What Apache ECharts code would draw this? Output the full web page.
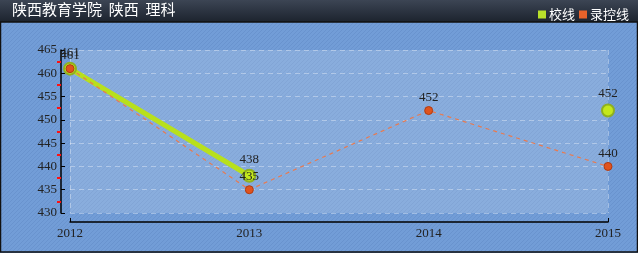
<!DOCTYPE html>
<html><head><meta charset="utf-8">
<script src="https://cdn.jsdelivr.net/npm/echarts@6/dist/echarts.min.js"></script>
<style>html,body{margin:0;padding:0;background:#000;}#c{width:638px;height:253px;}</style>
</head><body><div id="c"></div>
<script>
var categories = ['2012', '2013', '2014', '2015'];
var schoolLine = [461, 438, null, 452];
var controlLine = [461, 435, 452, 440];
var yMin = 430, yMax = 465, yStep = 5;

function stripe() {
  var c = document.createElement('canvas');
  c.width = 4; c.height = 4;
  var g = c.getContext('2d');
  g.fillStyle = '#729dd7';
  g.fillRect(0, 0, 4, 4);
  g.strokeStyle = 'rgba(100,140,200,0.6)';
  g.lineWidth = 1;
  g.beginPath();
  g.moveTo(-1, 5); g.lineTo(5, -1);
  g.stroke();
  return c;
}

var chart = echarts.init(document.getElementById('c'));
var serif = '"Liberation Serif", "DejaVu Serif", serif';
chart.setOption({
  animation: false,
  backgroundColor: {image: stripe(), repeat: 'repeat'},
  graphic: [
    {type: 'rect', shape: {x: 0, y: 0, width: 638, height: 22}, z: -1,
     style: {fill: new echarts.graphic.LinearGradient(0, 0, 0, 1, [{offset: 0, color: '#3c4554'}, {offset: 1, color: '#1c232e'}])}},
    {type: 'rect', shape: {x: 0.5, y: 22, width: 637, height: 230}, z: 100, silent: true,
     style: {fill: 'none', stroke: '#111', lineWidth: 1.5}},
    {type: 'text', left: 12, top: 2, z: 101,
     style: {text: '陕西教育学院  陕西  理科', fill: '#ffffff', font: '15px "Noto Sans CJK SC", sans-serif'}}
  ],
  legend: {
    right: 4, top: 3, itemWidth: 8, itemHeight: 8, itemGap: 4, icon: 'rect',
    textStyle: {color: '#ffffff', fontSize: 13, fontFamily: '"Noto Sans CJK SC", sans-serif', padding: [0, 0, 0, -2]},
    data: [{name: '校线', itemStyle: {color: '#b8e02a', borderWidth: 0}}, {name: '录控线', itemStyle: {color: '#e8622a', borderWidth: 0}}]
  },
  grid: {left: 70, right: 30, top: 50, bottom: 40, show: true, backgroundColor: 'rgba(255,255,255,0.17)', borderWidth: 0},
  xAxis: {
    type: 'category', data: categories, boundaryGap: false, offset: 9,
    axisLine: {lineStyle: {color: '#000', width: 1.5}},
    axisTick: {inside: true, length: 4, lineStyle: {color: '#000'}, interval: 0, customValues: [0, 3]},
    axisLabel: {color: '#222', fontSize: 13, fontFamily: serif, margin: 5},
    splitLine: {show: true, lineStyle: {color: 'rgba(255,255,255,0.35)', type: [5, 4]}}
  },
  yAxis: [{
    type: 'value', min: yMin, max: yMax, interval: yStep, offset: 9,
    axisLine: {show: true, lineStyle: {color: '#000', width: 1.5}},
    axisTick: {show: true, inside: true, length: 4, lineStyle: {color: '#000'}},
    axisLabel: {color: '#222', fontSize: 13, fontFamily: serif, margin: 4},
    splitLine: {show: true, lineStyle: {color: 'rgba(255,255,255,0.35)', type: [5, 4]}}
  }, {
    type: 'value', min: yMin, max: yMax, interval: yStep, position: 'left', offset: 9,
    axisLine: {show: false},
    axisTick: {show: false},
    minorTick: {show: true, splitNumber: 2, length: 4, lineStyle: {color: '#ff1010', width: 2}},
    axisLabel: {show: false},
    splitLine: {show: false}
  }],
  series: [{
    name: '校线', type: 'line', data: schoolLine, connectNulls: false,
    symbol: 'circle', symbolSize: 12, z: 2,
    lineStyle: {color: '#b8e01c', width: 5},
    itemStyle: {color: '#c4e81c', borderColor: '#8fb020', borderWidth: 2},
    label: {show: true, position: 'top', distance: 3, color: '#222', fontSize: 13, fontFamily: serif}
  }, {
    name: '录控线', type: 'line', data: controlLine,
    symbol: 'circle', symbolSize: 8, z: 3,
    lineStyle: {color: '#e87a50', width: 1.2, type: [4, 4]},
    itemStyle: {color: '#e0531e', borderColor: '#b03a10', borderWidth: 1},
    label: {show: true, position: 'top', distance: 2, color: '#222', fontSize: 13, fontFamily: serif}
  }]
});
</script></body></html>
